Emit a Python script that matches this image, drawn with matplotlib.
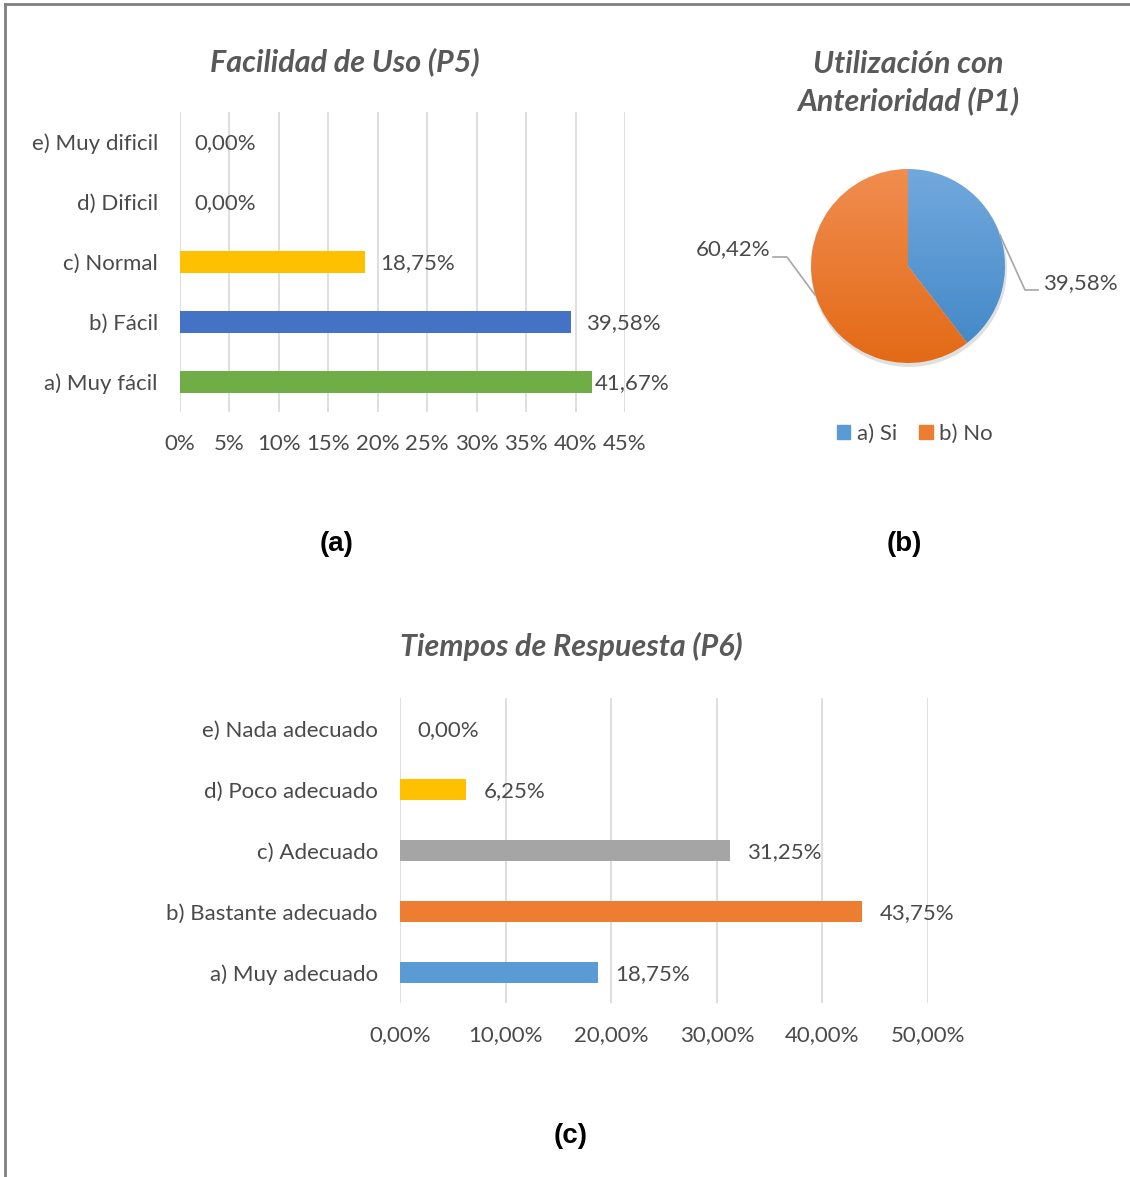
import numpy as np
import matplotlib
matplotlib.use("Agg")
import matplotlib.pyplot as plt
from matplotlib.patches import Wedge
from matplotlib.lines import Line2D
from matplotlib.colors import to_rgb

# --- data ---
p5_labels = ["a) Muy fácil", "b) Fácil", "c) Normal", "d) Dificil", "e) Muy dificil"]
p5_values = [41.67, 39.58, 18.75, 0.0, 0.0]
p5_colors = ["#70ad47", "#4472c4", "#ffc000", "#ffc000", "#ffc000"]
p5_ticks = [0, 5, 10, 15, 20, 25, 30, 35, 40, 45]

p1_labels = ["a) Si", "b) No"]
p1_values = [39.58, 60.42]

p6_labels = ["a) Muy adecuado", "b) Bastante adecuado", "c) Adecuado",
             "d) Poco adecuado", "e) Nada adecuado"]
p6_values = [18.75, 43.75, 31.25, 6.25, 0.0]
p6_colors = ["#5b9bd5", "#ed7d31", "#a5a5a5", "#ffc000", "#ffc000"]
p6_ticks = [0, 10, 20, 30, 40, 50]

W, H = 1130, 1177
FONT = "Lato"
TXT = "#4a4a4a"
TITLE_C = "#595959"
GRID = "#d9d9d9"
FS = 16

fig = plt.figure(figsize=(W / 100, H / 100), dpi=100)
fig.patch.set_facecolor("white")
renderer = fig.canvas.get_renderer()


def px_axes(left, top, right, bottom):
    return fig.add_axes([left / W, 1 - bottom / H, (right - left) / W, (bottom - top) / H])


def comma(v, fmt):
    return (fmt % v).replace(".", ",")


def hbar(ax, labels, values, colors, ticks, tick_fmt, xmax, height, label_right_px):
    y = np.arange(len(labels))
    ax.barh(y, values, height=height, color=colors, zorder=3)
    ax.set_xlim(0, xmax)
    ax.set_ylim(-0.5, len(labels) - 0.5)
    ax.set_xticks(ticks)
    ax.set_xticklabels([tick_fmt(t) for t in ticks], fontfamily=FONT,
                       fontsize=FS, color=TXT)
    ax.set_yticks(y)
    ax.set_yticklabels(labels, fontfamily=FONT, fontsize=FS, color=TXT)
    ax.tick_params(axis="both", length=0)
    ax.tick_params(axis="x", pad=16)
    ax.tick_params(axis="y", pad=16)
    for s in ax.spines.values():
        s.set_visible(False)
    ax.grid(axis="x", color=GRID, linewidth=1.2, zorder=0)
    ax.set_axisbelow(True)
    ax.patch.set_alpha(0)
    off = xmax * 0.033
    px_per_unit = ax.get_position().width * W / xmax
    for yi, v in zip(y, values):
        t = ax.text(v + off, yi - 0.02, comma(v, "%.2f") + "%", fontfamily=FONT,
                    fontsize=FS, color=TXT, va="center", ha="left", zorder=4)
        # keep the label inside the chart area
        wpx = t.get_window_extent(renderer).width
        left_px = ax.get_position().x0 * W + (v + off) * px_per_unit
        if left_px + wpx > label_right_px:
            shift = (left_px + wpx - label_right_px) / px_per_unit
            t.set_x(max(v + off - shift, v + 0.3))


TITLE_KW = dict(fontfamily=FONT, fontsize=22, fontweight="bold", fontstyle="italic",
                color=TITLE_C, ha="center", va="center")

# (a) Facilidad de Uso
ax_a = px_axes(180, 112, 625, 412)
hbar(ax_a, p5_labels, p5_values, p5_colors, p5_ticks,
     lambda t: "%d%%" % t, 45, 0.37, 666)
fig.text(345 / W, 1 - 62 / H, "Facilidad de Uso (P5)", **TITLE_KW)

# (c) Tiempos de Respuesta
ax_c = px_axes(400, 698, 928, 1003)
hbar(ax_c, p6_labels, p6_values, p6_colors, p6_ticks,
     lambda t: comma(t, "%.2f") + "%", 50, 0.36, 1000)
fig.text(571 / W, 1 - 646 / H, "Tiempos de Respuesta (P6)", **TITLE_KW)

# (b) Utilización con Anterioridad - pie with vertical shading
cx, cy, half = 908, 266, 150
ax_b = px_axes(cx - half, cy - half, cx + half, cy + half)
ax_b.set_xlim(-1.5, 1.5)
ax_b.set_ylim(-1.5, 1.5)
ax_b.set_aspect("equal")
ax_b.axis("off")

R = 0.97
shades = [("#72a9dd", "#3f86c6"), ("#f18d50", "#e36a16")]
start = 90.0
total = sum(p1_values)
grid_y = np.linspace(1, 0, 256)[:, None, None]
# soft drop shadow
ax_b.add_patch(plt.Circle((0.01, -0.03), R * 1.01, color="#000000", alpha=0.12,
                          zorder=1, linewidth=0))
for v, (top, bot) in zip(p1_values, shades):
    sweep = 360.0 * v / total
    w = Wedge((0, 0), R, start - sweep, start, facecolor="none", edgecolor="none",
              zorder=2)
    ax_b.add_patch(w)
    c_top = np.array(to_rgb(top))[None, None, :]
    c_bot = np.array(to_rgb(bot))[None, None, :]
    img = c_top * grid_y + c_bot * (1 - grid_y)
    img = np.repeat(img, 4, axis=1)
    im = ax_b.imshow(img, extent=(-R, R, -R, R), origin="upper", zorder=2,
                     interpolation="bilinear")
    im.set_clip_path(w)
    start -= sweep

# leader lines and labels
ax_b.add_line(Line2D([0.92, 1.17, 1.30], [0.31, -0.24, -0.24], color="#a6a6a6",
                     linewidth=1.2, zorder=3, clip_on=False))
ax_b.text(1.35, -0.17, comma(p1_values[0], "%.2f") + "%", fontfamily=FONT,
          fontsize=FS, color=TXT, ha="left", va="center", clip_on=False)
ax_b.add_line(Line2D([-0.93, -1.21, -1.35], [-0.29, 0.09, 0.09], color="#a6a6a6",
                     linewidth=1.2, zorder=3, clip_on=False))
ax_b.text(-1.38, 0.17, comma(p1_values[1], "%.2f") + "%", fontfamily=FONT,
          fontsize=FS, color=TXT, ha="right", va="center", clip_on=False)

fig.text(908 / W, 1 - 83 / H, "Utilización con\nAnterioridad (P1)",
         linespacing=1.35, **TITLE_KW)

# legend
leg_handles = [plt.Rectangle((0, 0), 1, 1, color=c) for c in ["#5b9bd5", "#ed7d31"]]
fig.legend(leg_handles, p1_labels, loc="center", bbox_to_anchor=(915 / W, 1 - 434 / H),
           ncol=2, frameon=False, prop={"family": FONT, "size": FS},
           handlelength=0.6, handleheight=0.6, handletextpad=0.3, columnspacing=1.0,
           labelcolor=TXT)

# panel captions
for x, y, s in [(337, 544, "(a)"), (904, 544, "(b)"), (571, 1136, "(c)")]:
    fig.text(x / W, 1 - y / H, s, fontfamily="Liberation Sans", fontweight="bold",
             fontsize=20, color="black", ha="center", va="center")

# frame on top and left edges
fig.add_artist(Line2D([4.5 / W, 4.5 / W], [0, 1 - 3.5 / H], transform=fig.transFigure,
                      color="#808080", linewidth=2))
fig.add_artist(Line2D([4.5 / W, 1], [1 - 3.5 / H, 1 - 3.5 / H], transform=fig.transFigure,
                      color="#808080", linewidth=2))

fig.savefig("out.png", dpi=100, facecolor="white")
